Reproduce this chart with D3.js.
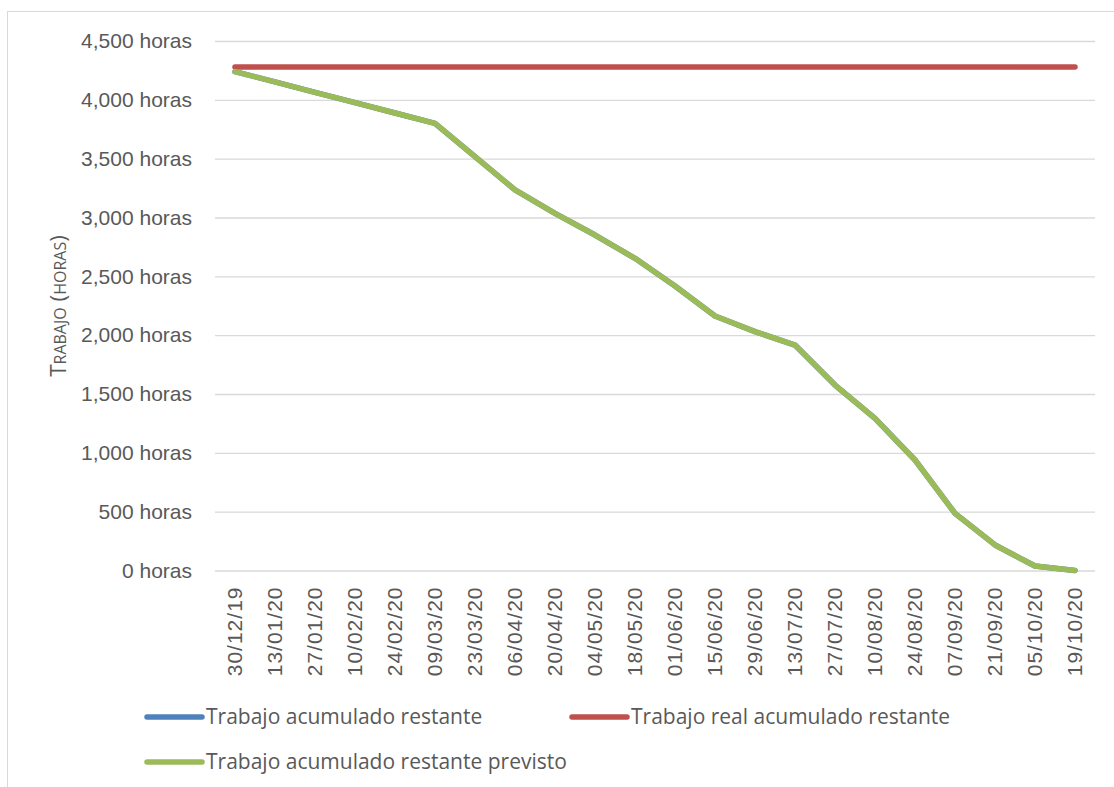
<!DOCTYPE html>
<html>
<head>
<meta charset="utf-8">
<script src="https://cdn.jsdelivr.net/npm/d3@7"></script>
<style>
  body { margin: 0; background: #fff; }
  svg { display: block; font-family: "Open Sans", "Noto Sans", sans-serif; }
</style>
</head>
<body>
<svg width="1114" height="787"></svg>
<script>
// Fechas (cada dos semanas)
const fechas = ["30/12/19", "13/01/20", "27/01/20", "10/02/20", "24/02/20", "09/03/20",
  "23/03/20", "06/04/20", "20/04/20", "04/05/20", "18/05/20", "01/06/20", "15/06/20",
  "29/06/20", "13/07/20", "27/07/20", "10/08/20", "24/08/20", "07/09/20", "21/09/20",
  "05/10/20", "19/10/20"];

// Series (horas)
const restante = [4240, 4152, 4064, 3976, 3888, 3800, 3518, 3234, 3035, 2851, 2653, 2418,
  2163, 2030, 1916, 1576, 1293, 939, 486, 217, 38, 0];
const realRestante = fechas.map(() => 4280);
const previsto = [4240, 4152, 4064, 3976, 3888, 3800, 3518, 3234, 3035, 2851, 2653, 2418,
  2163, 2030, 1916, 1576, 1293, 939, 486, 217, 38, 0];

const yTicks = [0, 500, 1000, 1500, 2000, 2500, 3000, 3500, 4000, 4500];

const series = [
  { name: "Trabajo acumulado restante", values: restante, color: "#4F81BD" },
  { name: "Trabajo real acumulado restante", values: realRestante, color: "#C0504D" },
  { name: "Trabajo acumulado restante previsto", values: previsto, color: "#9BBB59" }
];

const svg = d3.select("svg");
const plotLeft = 215, plotRight = 1095, plotTop = 41, plotBottom = 570.5;

// marco exterior
svg.append("rect")
  .attr("x", 7.5).attr("y", 11.5)
  .attr("width", 1200).attr("height", 776)
  .attr("fill", "none").attr("stroke", "#d9d9d9").attr("stroke-width", 1);

const x = d3.scaleBand().domain(fechas).range([plotLeft, plotRight]);
const y = d3.scaleLinear().domain([0, 4500]).range([plotBottom, plotTop]);

// eje y con lineas de cuadricula
const yAxis = svg.append("g")
  .attr("transform", `translate(${plotLeft},0)`)
  .call(d3.axisLeft(y).tickValues(yTicks)
    .tickSize(-(plotRight - plotLeft)).tickPadding(23)
    .tickFormat(d => d3.format(",")(d) + " horas"));
yAxis.select(".domain").remove();
yAxis.selectAll("line").attr("stroke", "#d9d9d9").attr("stroke-width", 1.3);
yAxis.selectAll("text").attr("fill", "#595959").attr("font-size", 21);

// eje x (etiquetas giradas)
const xAxis = svg.append("g")
  .attr("transform", `translate(0,${plotBottom})`)
  .call(d3.axisBottom(x).tickSize(0).tickPadding(0));
xAxis.select(".domain").remove();
xAxis.selectAll("text")
  .attr("fill", "#595959").attr("font-size", 21)
  .attr("letter-spacing", 1)
  .attr("transform", "rotate(-90)")
  .attr("text-anchor", "end")
  .attr("x", -16).attr("y", 0).attr("dy", "0.35em");

// titulo del eje y
svg.append("text")
  .attr("transform", "translate(66,306) rotate(-90)")
  .attr("text-anchor", "middle")
  .attr("fill", "#595959").attr("font-size", 22.5)
  .style("font-variant", "small-caps")
  .text("Trabajo (horas)");

// lineas
const line = d3.line()
  .x((d, i) => x(fechas[i]) + x.bandwidth() / 2)
  .y(d => y(d));

svg.append("g").selectAll("path")
  .data(series)
  .enter().append("path")
  .attr("d", d => line(d.values))
  .attr("fill", "none")
  .attr("stroke", d => d.color)
  .attr("stroke-width", 5.5)
  .attr("stroke-linejoin", "round")
  .attr("stroke-linecap", "round");

// leyenda
const legendPos = [[147, 717], [572, 717], [147, 762]];
const legend = svg.append("g").selectAll("g")
  .data(series)
  .enter().append("g")
  .attr("transform", (d, i) => `translate(${legendPos[i][0]},${legendPos[i][1]})`);
legend.append("line")
  .attr("x1", 0).attr("x2", 55)
  .attr("stroke", d => d.color).attr("stroke-width", 5.5)
  .attr("stroke-linecap", "round");
legend.append("text")
  .attr("x", 59).attr("dy", "0.35em")
  .attr("fill", "#595959").attr("font-size", 21)
  .text(d => d.name);
</script>
</body>
</html>
